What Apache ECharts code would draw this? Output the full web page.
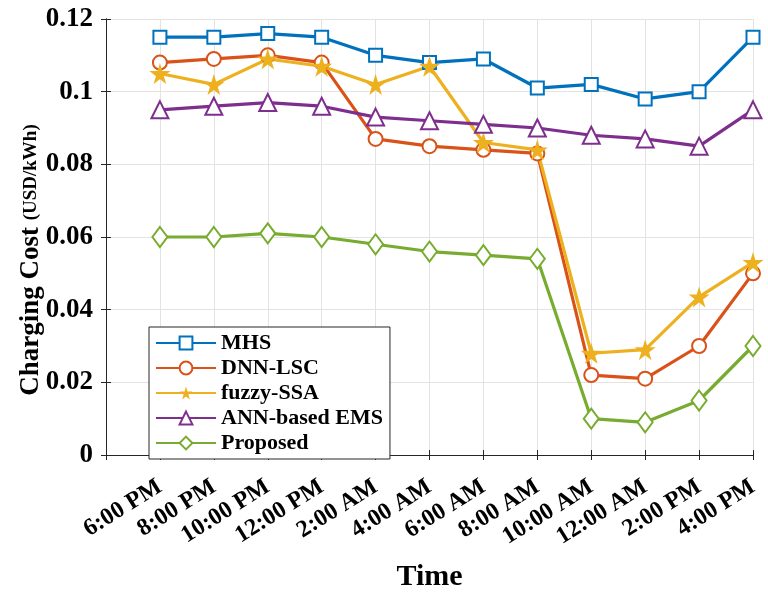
<!DOCTYPE html>
<html>
<head>
<meta charset="utf-8">
<title>Charging Cost</title>
<script src="https://cdn.jsdelivr.net/npm/echarts@6/dist/echarts.min.js"></script>
<style>
  html, body { margin: 0; padding: 0; background: #fff; }
  #main { width: 768px; height: 597px; }
</style>
</head>
<body>
<div id="main"></div>
<script>
// time slots on the x axis
var timeSlots = ['6:00 PM', '8:00 PM', '10:00 PM', '12:00 PM', '2:00 AM', '4:00 AM',
                 '6:00 AM', '8:00 AM', '10:00 AM', '12:00 AM', '2:00 PM', '4:00 PM'];

// charging cost of each method (USD/kWh)
var mhs      = [0.115, 0.115, 0.116, 0.115, 0.110, 0.108, 0.109, 0.101, 0.102, 0.098, 0.100, 0.115];
var dnnLsc   = [0.108, 0.109, 0.110, 0.108, 0.087, 0.085, 0.084, 0.083, 0.022, 0.021, 0.030, 0.050];
var fuzzySsa = [0.105, 0.102, 0.109, 0.107, 0.102, 0.107, 0.086, 0.084, 0.028, 0.029, 0.0435, 0.053];
var annEms   = [0.095, 0.096, 0.097, 0.096, 0.093, 0.092, 0.091, 0.090, 0.088, 0.087, 0.085, 0.095];
var proposed = [0.060, 0.060, 0.061, 0.060, 0.058, 0.056, 0.055, 0.054, 0.010, 0.009, 0.015, 0.030];

var seriesNames = ['MHS', 'DNN-LSC', 'fuzzy-SSA', 'ANN-based EMS', 'Proposed'];

var font = '"Liberation Serif", "Times New Roman", serif';
var starPath = 'path://M50,0 L61,35 L98,35 L68,57 L79,91 L50,70 L21,91 L32,57 L2,35 L39,35 Z';

// slot i is drawn at x = i + 1, x axis goes 0..12
function toPoints(values) {
    return values.map(function (v, i) { return [i + 1, v]; });
}

function makeSeries(name, values, color, symbol, size) {
    return {
        name: name,
        type: 'line',
        data: toPoints(values),
        symbol: symbol,
        symbolSize: size,
        lineStyle: { color: color, width: 3.2 },
        // empty* symbols: stroke takes the colour, width from borderWidth
        itemStyle: { color: color, borderWidth: 2.6 },
        emphasis: { disabled: true },
        z: 3
    };
}

var myChart = echarts.init(document.getElementById('main'), null, { renderer: 'canvas' });

var axisColor = '#262626';
var gridColor = '#e3e3e3';

option = {
    backgroundColor: '#ffffff',
    animation: false,
    color: ['#0072BD', '#D95319', '#EDB120', '#7E2F8E', '#77AC30'],
    grid: {
        left: 106,
        right: 15,
        top: 19,
        bottom: 131
    },
    legend: {
        data: seriesNames,
        orient: 'vertical',
        left: 149,
        top: 327,
        padding: [5, 7, 5, 6],
        itemGap: 3,
        itemWidth: 60,
        itemHeight: 16,
        backgroundColor: '#fff',
        borderColor: axisColor,
        borderWidth: 1,
        borderRadius: 0,
        textStyle: {
            fontFamily: font,
            fontWeight: 'bold',
            fontSize: 22,
            color: '#000'
        }
    },
    xAxis: [
        {
            type: 'value',
            min: 0,
            max: 12,
            interval: 1,
            name: 'Time',
            nameLocation: 'middle',
            nameGap: 107,
            nameMoveOverlap: false,
            nameTextStyle: {
                fontFamily: font,
                fontWeight: 'bold',
                fontSize: 30,
                color: '#000'
            },
            axisLine: { show: true, lineStyle: { color: axisColor, width: 1 } },
            axisTick: { show: true, inside: true, length: 5, lineStyle: { color: axisColor } },
            splitLine: { show: true, lineStyle: { color: gridColor, width: 1 } },
            axisLabel: {
                rotate: 32,
                margin: 30,
                fontFamily: font,
                fontWeight: 'bold',
                fontSize: 24,
                color: '#000',
                formatter: function (v) {
                    return timeSlots[v - 1] || '';
                }
            }
        },
        {
            type: 'value',
            position: 'top',
            min: 0,
            max: 12,
            interval: 1,
            axisLine: { show: true, lineStyle: { color: axisColor, width: 1 } },
            axisTick: { show: true, inside: true, length: 5, lineStyle: { color: axisColor } },
            splitLine: { show: false },
            axisLabel: { show: false }
        }
    ],
    yAxis: [
        {
            type: 'value',
            min: 0,
            max: 0.12,
            interval: 0.02,
            name: '{a|Charging Cost}  {b|(USD/kWh)}',
            nameLocation: 'middle',
            nameRotate: 90,
            nameGap: 61,
            nameMoveOverlap: false,
            nameTextStyle: {
                padding: [0, 46, 0, 0],
                rich: {
                    a: { fontFamily: font, fontWeight: 'bold', fontSize: 27, color: '#000' },
                    b: { fontFamily: font, fontWeight: 'bold', fontSize: 19, color: '#000' }
                }
            },
            axisLine: { show: true, lineStyle: { color: axisColor, width: 1 } },
            axisTick: { show: true, inside: true, length: 5, lineStyle: { color: axisColor } },
            splitLine: { show: true, lineStyle: { color: gridColor, width: 1 } },
            axisLabel: {
                margin: 13,
                fontFamily: font,
                fontWeight: 'bold',
                fontSize: 27,
                color: '#000'
            }
        },
        {
            type: 'value',
            position: 'right',
            min: 0,
            max: 0.12,
            interval: 0.02,
            axisLine: { show: true, lineStyle: { color: axisColor, width: 1 } },
            axisTick: { show: true, inside: true, length: 5, lineStyle: { color: axisColor } },
            splitLine: { show: false },
            axisLabel: { show: false }
        }
    ],
    series: [
        makeSeries('MHS', mhs, '#0072BD', 'emptyRect', 13),
        makeSeries('DNN-LSC', dnnLsc, '#D95319', 'emptyCircle', 14),
        makeSeries('fuzzy-SSA', fuzzySsa, '#EDB120', starPath, 21),
        makeSeries('ANN-based EMS', annEms, '#7E2F8E', 'emptyTriangle', 17),
        makeSeries('Proposed', proposed, '#77AC30', 'emptyDiamond', [15, 20])
    ]
};

myChart.setOption(option, true);
</script>
</body>
</html>
